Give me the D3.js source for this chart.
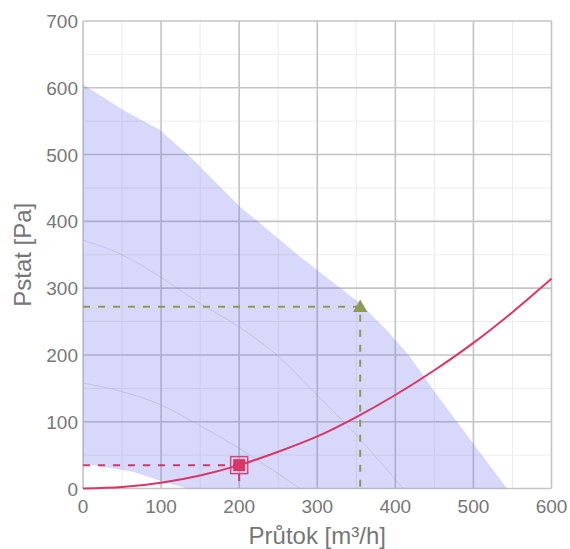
<!DOCTYPE html>
<html>
<head>
<meta charset="utf-8">
<script src="https://cdn.jsdelivr.net/npm/d3@7"></script>
<style>
  body { margin: 0; background: #fff; }
  text { font-family: "Liberation Sans", Arial, sans-serif; }
</style>
</head>
<body>
<svg id="chart" width="570" height="549"></svg>
<script>
// fan working range (upper edge = max speed, lower edge = min speed)
const rangeTopQ = [0, 51, 98, 137, 201, 278, 355, 389, 419, 449, 500, 543];
const rangeTopP = [605, 567, 537, 497, 422, 347, 277, 237, 197, 147, 67, 0];
const rangeLowQ = [133, 98, 64, 0];
const rangeLowP = [0, 12, 25, 37.5];

// faint intermediate speed curves
const speedAQ = [0, 50, 100, 150, 200, 250, 300, 350, 410];
const speedAP = [372, 350, 316, 277, 242, 198, 140, 80, 0];
const speedBQ = [0, 50, 100, 150, 200, 250, 278];
const speedBP = [158, 145, 125, 94, 60, 22, 0];

// system curve
const systemQ = [0, 50, 100, 150, 200, 250, 300, 350, 400, 450, 500, 550, 600];
const systemP = [0, 2.2, 8.7, 19.6, 35, 55, 78, 107, 140, 177, 218, 264, 314];

// points
const workPoint = [200, 35];
const maxPoint = [355, 272];

const xTicks = [0, 100, 200, 300, 400, 500, 600];
const yTicks = [0, 100, 200, 300, 400, 500, 600, 700];

const margin = {top: 21, right: 18.5, bottom: 60.5, left: 83};
const W = 570, H = 549;

const svg = d3.select('#chart');

const x = d3.scaleLinear().domain([0, 600]).range([margin.left, W - margin.right]);
const y = d3.scaleLinear().domain([0, 700]).range([H - margin.bottom, margin.top]);

const grid = svg.append('g');
// minor grid
grid.selectAll('.vmin').data(d3.range(50, 600, 100)).enter().append('line')
  .attr('x1', d => x(d)).attr('x2', d => x(d))
  .attr('y1', y(0)).attr('y2', y(700))
  .attr('stroke', '#ececec').attr('stroke-width', 1);
grid.selectAll('.hmin').data(d3.range(50, 700, 100)).enter().append('line')
  .attr('y1', d => y(d)).attr('y2', d => y(d))
  .attr('x1', x(0)).attr('x2', x(600))
  .attr('stroke', '#ececec').attr('stroke-width', 1);
// major grid
grid.selectAll('.vmaj').data(xTicks).enter().append('line')
  .attr('x1', d => x(d)).attr('x2', d => x(d))
  .attr('y1', y(0)).attr('y2', y(700))
  .attr('stroke', '#c4c4c4').attr('stroke-width', 1.6);
grid.selectAll('.hmaj').data(yTicks).enter().append('line')
  .attr('y1', d => y(d)).attr('y2', d => y(d))
  .attr('x1', x(0)).attr('x2', x(600))
  .attr('stroke', '#c4c4c4').attr('stroke-width', 1.6);

// working range area
const poly = rangeTopQ.map((q, i) => [q, rangeTopP[i]])
  .concat(rangeLowQ.map((q, i) => [q, rangeLowP[i]]));
svg.append('path')
  .datum(poly)
  .attr('d', d3.line().x(d => x(d[0])).y(d => y(d[1])).curve(d3.curveLinearClosed))
  .attr('fill', '#6464f0')
  .attr('fill-opacity', 0.25);

const line = d3.line().x(d => x(d[0])).y(d => y(d[1])).curve(d3.curveMonotoneX);

[[speedAQ, speedAP], [speedBQ, speedBP]].forEach(([qs, ps]) => {
  svg.append('path')
    .datum(qs.map((q, i) => [q, ps[i]]))
    .attr('d', line)
    .attr('fill', 'none')
    .attr('stroke', '#9a9ad8')
    .attr('stroke-opacity', 0.35)
    .attr('stroke-width', 1);
});

// dashed guides
const olive = '#8c9a55', red = '#d93566';
svg.append('path')
  .attr('d', `M${x(0)},${y(maxPoint[1])}H${x(maxPoint[0])}V${y(0)}`)
  .attr('fill', 'none').attr('stroke', olive).attr('stroke-width', 2)
  .attr('stroke-dasharray', '7,8');
svg.append('path')
  .attr('d', `M${x(0)},${y(workPoint[1])}H${x(workPoint[0])}V${y(0)}`)
  .attr('fill', 'none').attr('stroke', red).attr('stroke-width', 2)
  .attr('stroke-dasharray', '7,8');

// system curve
svg.append('path')
  .datum(systemQ.map((q, i) => [q, systemP[i]]))
  .attr('d', line)
  .attr('fill', 'none')
  .attr('stroke', red)
  .attr('stroke-width', 2);

// max point triangle
svg.append('path')
  .attr('d', d3.symbol().type(d3.symbolTriangle).size(90))
  .attr('transform', `translate(${x(maxPoint[0])},${y(maxPoint[1]) + 1})`)
  .attr('fill', olive);

// working point square
svg.append('rect')
  .attr('x', x(workPoint[0]) - 8.5).attr('y', y(workPoint[1]) - 8.5)
  .attr('width', 17).attr('height', 17)
  .attr('fill', 'none').attr('stroke', red).attr('stroke-width', 1.5)
  .attr('stroke-opacity', 0.9);
svg.append('rect')
  .attr('x', x(workPoint[0]) - 6).attr('y', y(workPoint[1]) - 6)
  .attr('width', 12).attr('height', 12)
  .attr('fill', red);

// tick labels
svg.selectAll('.xt').data(xTicks).enter().append('text')
  .attr('x', d => x(d)).attr('y', y(0) + 24)
  .attr('text-anchor', 'middle')
  .attr('font-size', 19).attr('fill', '#777')
  .text(d => d);
svg.selectAll('.yt').data(yTicks).enter().append('text')
  .attr('x', x(0) - 5).attr('y', d => y(d) + 7)
  .attr('text-anchor', 'end')
  .attr('font-size', 19).attr('fill', '#777')
  .text(d => d);

// axis titles
svg.append('text')
  .attr('x', (x(0) + x(600)) / 2).attr('y', 544)
  .attr('text-anchor', 'middle')
  .attr('font-size', 24).attr('fill', '#777')
  .text('Průtok [m³/h]');
svg.append('text')
  .attr('transform', `translate(31,${(y(0) + y(700)) / 2}) rotate(-90)`)
  .attr('text-anchor', 'middle')
  .attr('font-size', 24).attr('fill', '#777')
  .text('Pstat [Pa]');
</script>
</body>
</html>
